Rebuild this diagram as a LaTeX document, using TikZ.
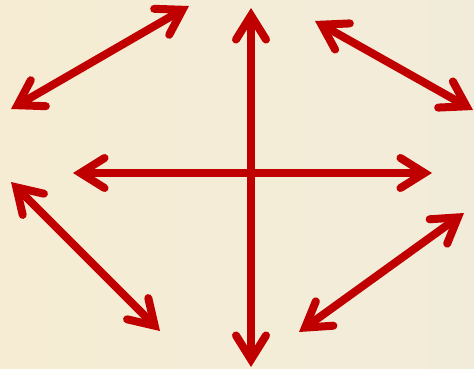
\documentclass[tikz,border=0pt]{standalone}
\usepackage{tikz}
\usetikzlibrary{arrows.meta}

\definecolor{arrowred}{RGB}{192,0,0}
\definecolor{bgleft}{RGB}{246,236,211}
\definecolor{bgright}{RGB}{241,236,218}

\tikzset{
  barb/.tip={Straight Barb[length=24pt,width=30pt,line cap=round,line join=miter]},
  twoway/.style={draw=arrowred, line width=8pt, line cap=butt, barb-barb}
}

\begin{document}
\begin{tikzpicture}[x=1pt,y=-1pt]
  % background
  \shade[left color=bgleft, right color=bgright] (0,0) rectangle (474,369);
  \useasboundingbox (0,0) rectangle (474,369);
  % cross in the middle
  \coordinate (up) at (251,8);
  \coordinate (down) at (251,367);
  \coordinate (left) at (73,173);
  \coordinate (right) at (432,173);
  \draw[twoway] (up) -- (down);
  \draw[twoway] (left) -- (right);
  % top-left diagonal
  \coordinate (tlA) at (11,109);
  \coordinate (tlB) at (189,6);
  \draw[twoway] (tlA) -- (tlB);
  % top-right diagonal
  \coordinate (trA) at (315,21);
  \coordinate (trB) at (473,110);
  \draw[twoway] (trA) -- (trB);
  % bottom-left diagonal
  \coordinate (blA) at (11,182);
  \coordinate (blB) at (160,331);
  \draw[twoway] (blA) -- (blB);
  % bottom-right diagonal
  \coordinate (brA) at (464,213);
  \coordinate (brB) at (299,332);
  \draw[twoway] (brA) -- (brB);
\end{tikzpicture}
\end{document}
